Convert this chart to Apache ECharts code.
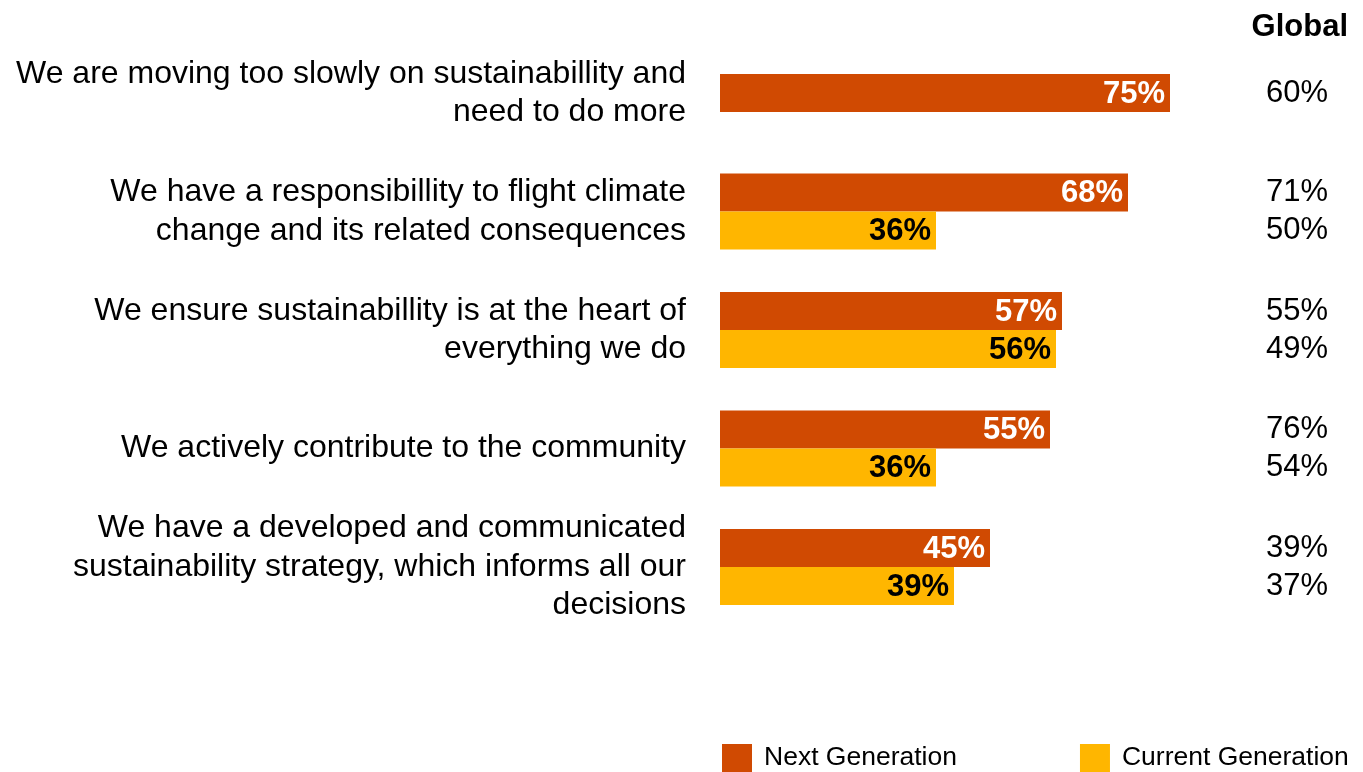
<!DOCTYPE html>
<html>
<head>
<meta charset="utf-8">
<script src="https://cdn.jsdelivr.net/npm/echarts@6/dist/echarts.min.js"></script>
<style>
  html, body { margin: 0; padding: 0; background: #fff; }
  #chart { width: 1363px; height: 772px; }
</style>
</head>
<body>
<div id="chart"></div>
<script>
// ---- data ----
const categories = [
  "We are moving too slowly on sustainabillity and\nneed to do more",
  "We have a responsibillity to flight climate\nchange and its related consequences",
  "We ensure sustainabillity is at the heart of\neverything we do",
  "We actively contribute to the community",
  "We have a developed and communicated\nsustainability strategy, which informs all our\ndecisions"
];
const nextGen = [75, 68, 57, 55, 45];
const currentGen = [null, 36, 56, 36, 39];
const globalNext = [60, 71, 55, 76, 39];
const globalCurrent = [null, 50, 49, 54, 37];
const seriesNames = ["Next Generation", "Current Generation"];
const headerText = "Global";

// ---- style ----
const ORANGE = "#D04A02";
const YELLOW = "#FFB600";
const FONT = "'Liberation Sans', Arial, Helvetica, sans-serif";
const BAR_H = 38;

const chart = echarts.init(document.getElementById('chart'));

function barRenderer(isNext) {
  return function (params, api) {
    const idx = api.value(0);
    const val = api.value(1);
    if (val == null || isNaN(val)) return null;
    const hasPair = isNext ? api.value(2) === 1 : true;
    const start = api.coord([0, idx]);
    const end = api.coord([val, idx]);
    let y;
    if (isNext) {
      y = hasPair ? start[1] - BAR_H : start[1] - BAR_H / 2;
    } else {
      y = start[1];
    }
    return {
      type: 'group',
      children: [
        {
          type: 'rect',
          shape: { x: start[0], y: y, width: end[0] - start[0], height: BAR_H },
          style: { fill: isNext ? ORANGE : YELLOW }
        },
        {
          type: 'text',
          x: end[0] - 5,
          y: y + BAR_H / 2 + 1,
          style: {
            text: val + '%',
            fill: isNext ? '#ffffff' : '#000000',
            font: 'bold 31px ' + FONT,
            align: 'right',
            verticalAlign: 'middle'
          }
        }
      ]
    };
  };
}

const option = {
  backgroundColor: '#ffffff',
  animation: false,
  title: {
    text: headerText,
    right: 10,
    top: 7,
    textStyle: { fontFamily: FONT, fontSize: 31, fontWeight: 'bold', color: '#000' }
  },
  legend: {
    left: 717,
    top: 739,
    itemWidth: 30,
    itemHeight: 28,
    itemGap: 123,
    icon: 'rect',
    data: seriesNames,
    textStyle: { fontFamily: FONT, fontSize: 26.5, color: '#000', padding: [0, 0, 0, 7] }
  },
  grid: { left: 720, top: 33.75, width: 600, height: 592.5 },
  xAxis: {
    type: 'value', min: 0, max: 100, show: false
  },
  yAxis: [
    {
      type: 'category',
      data: categories,
      inverse: true,
      axisLine: { show: false },
      axisTick: { show: false },
      splitLine: { show: false },
      axisLabel: {
        margin: 34,
        fontFamily: FONT,
        fontSize: 32,
        lineHeight: 38.5,
        color: '#000',
        align: 'right'
      }
    },
    {
      type: 'category',
      data: categories,
      inverse: true,
      position: 'right',
      axisLine: { show: false },
      axisTick: { show: false },
      splitLine: { show: false },
      axisLabel: {
        margin: 8,
        align: 'right',
        fontFamily: FONT,
        fontSize: 31,
        lineHeight: 38,
        color: '#000',
        formatter: function (v, i) {
          let s = globalNext[i] + '%';
          if (globalCurrent[i] != null) s += '\n' + globalCurrent[i] + '%';
          return s;
        }
      }
    }
  ],
  series: [
    {
      name: seriesNames[0],
      type: 'custom',
      itemStyle: { color: ORANGE },
      encode: { x: 1, y: 0 },
      renderItem: barRenderer(true),
      data: nextGen.map((v, i) => [i, v, currentGen[i] == null ? 0 : 1])
    },
    {
      name: seriesNames[1],
      type: 'custom',
      itemStyle: { color: YELLOW },
      encode: { x: 1, y: 0 },
      renderItem: barRenderer(false),
      data: currentGen.map((v, i) => [i, v == null ? '-' : v])
    }
  ]
};
chart.setOption(option);
</script>
</body>
</html>
